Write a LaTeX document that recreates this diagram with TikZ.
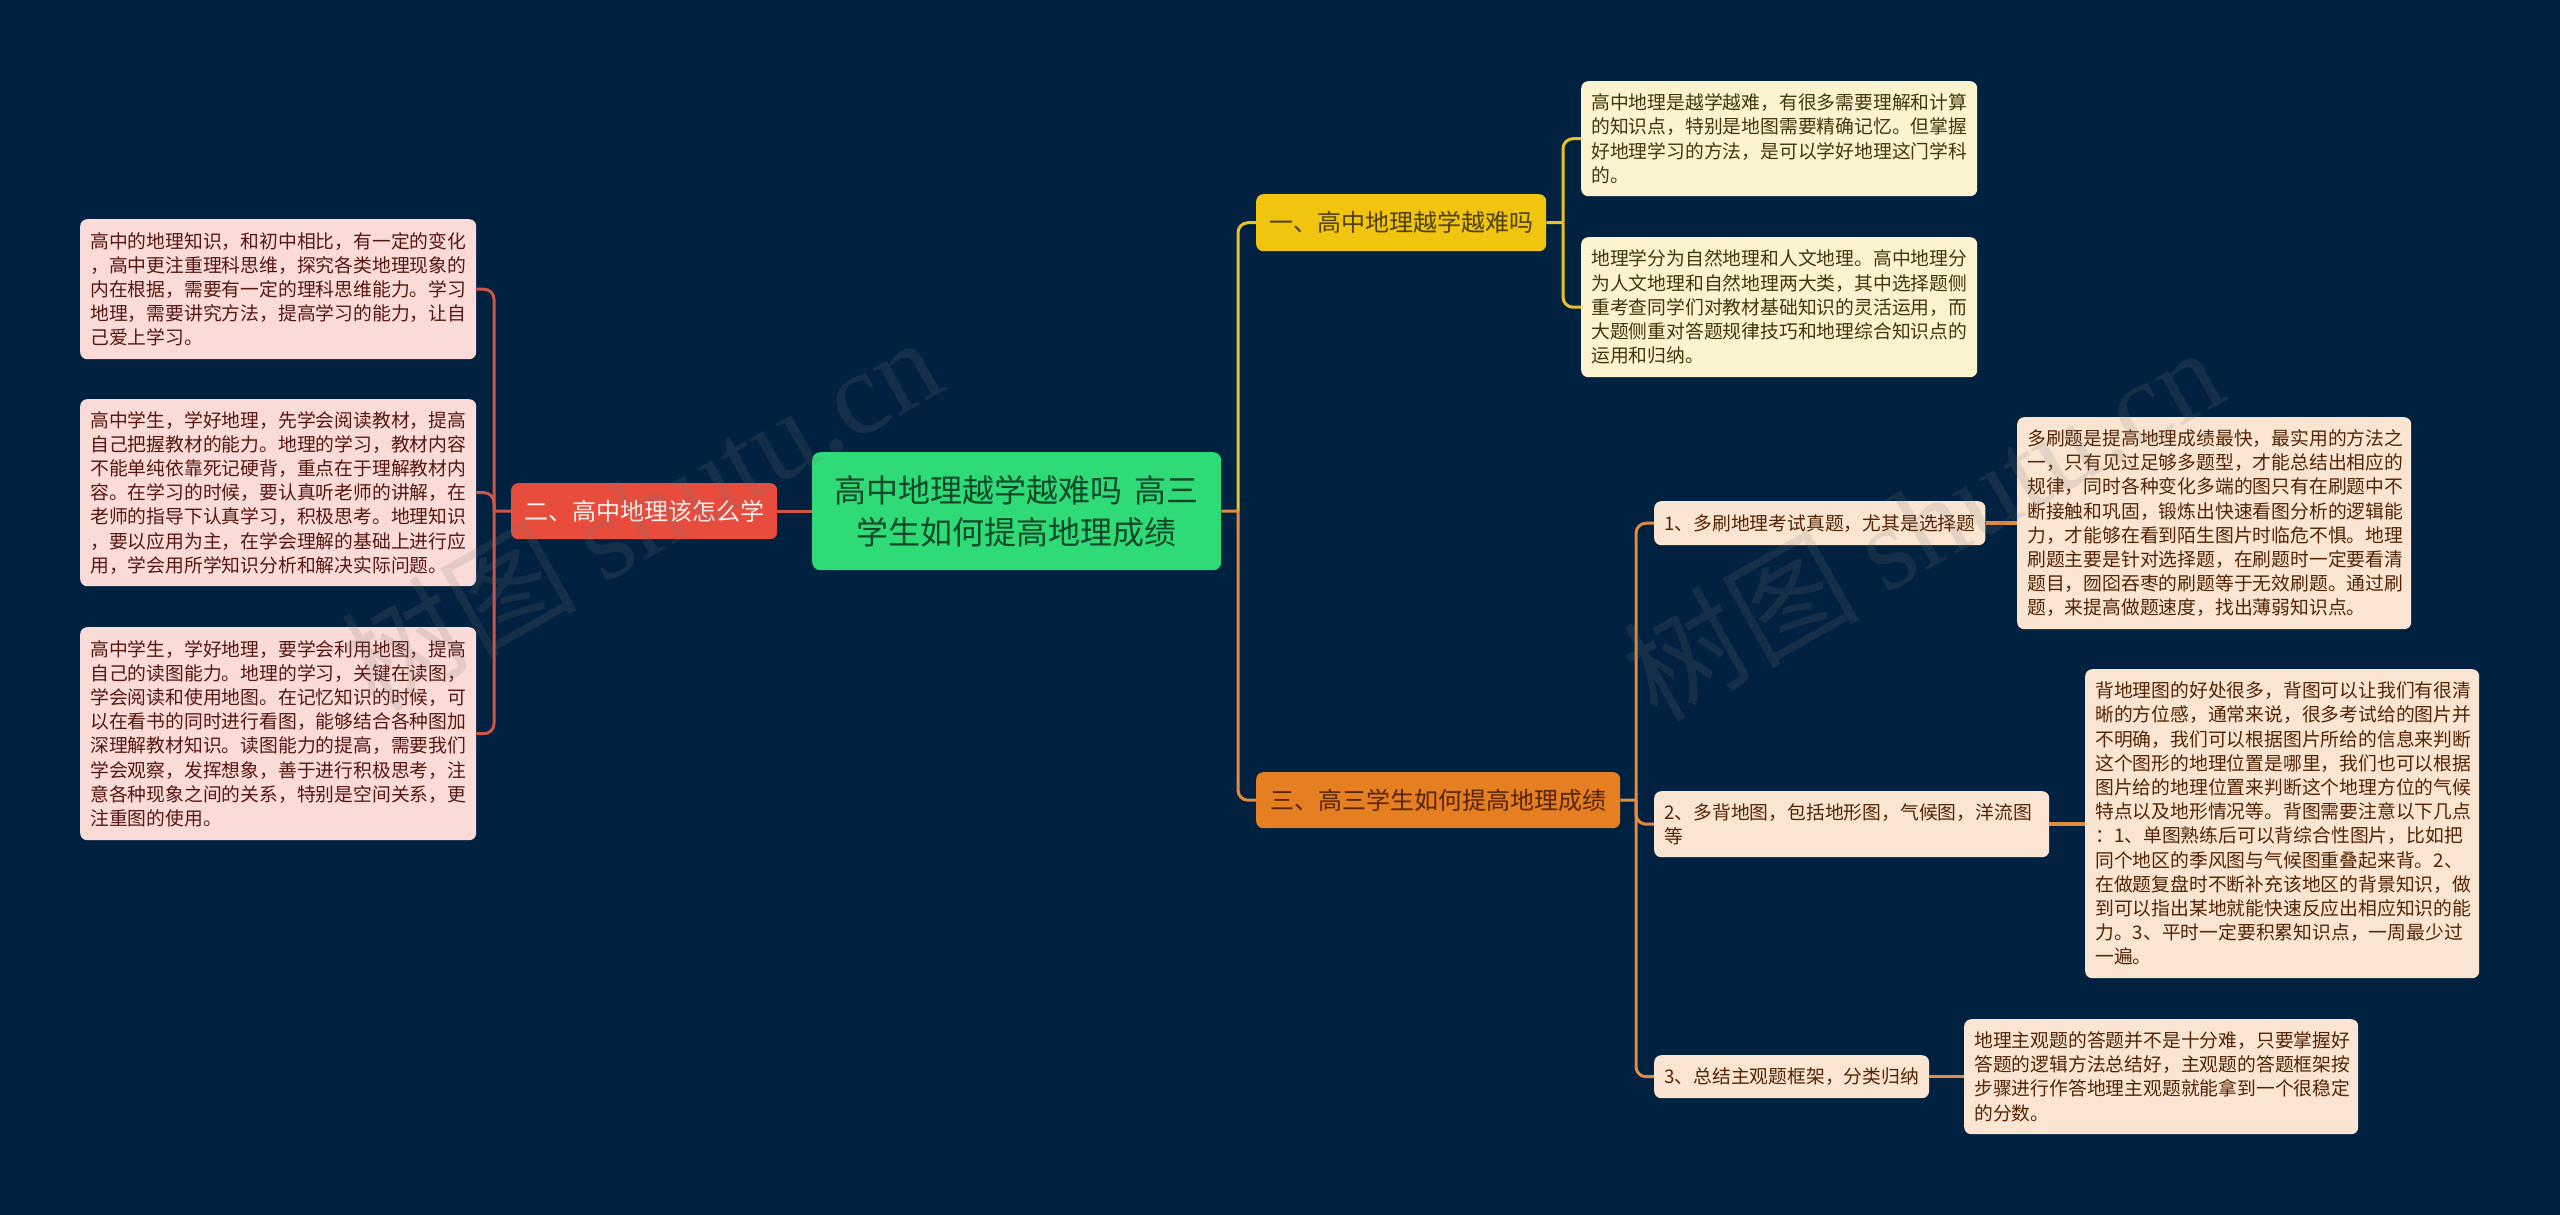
\documentclass[tikz,border=0pt]{standalone}
\usepackage{fontspec}
\setmainfont{Noto Sans CJK SC}
\newfontfamily\wmlatin{Liberation Serif}
\definecolor{bgc}{HTML}{012140}
\definecolor{rootc}{HTML}{2FDB77}
\definecolor{roott}{HTML}{10492A}
\definecolor{redc}{HTML}{E74C3C}
\definecolor{redt}{HTML}{FDF0EE}
\definecolor{yelc}{HTML}{F1C40F}
\definecolor{yelt}{HTML}{4F4004}
\definecolor{orac}{HTML}{E67E22}
\definecolor{orat}{HTML}{552503}
\definecolor{pinkc}{HTML}{FADBD8}
\definecolor{pinkt}{HTML}{561710}
\definecolor{crec}{HTML}{FCF3CF}
\definecolor{cret}{HTML}{42370A}
\definecolor{pchc}{HTML}{FAE5D3}
\definecolor{pcht}{HTML}{522403}
\definecolor{redl}{HTML}{CF5549}
\definecolor{yell}{HTML}{E8C02E}
\definecolor{oral}{HTML}{E08B3E}
\definecolor{wmc}{HTML}{787878}
\tikzset{
  base/.style={anchor=north west,rounded corners=7pt,inner ysep=0pt,inner xsep=10pt,align=left,
    font=\fontsize{18.8pt}{24.2pt}\selectfont},
  cardbox/.style={base,text width=376pt,minimum height=#1},
  rootbox/.style={anchor=north west,rounded corners=8pt,fill=rootc,text=roott,align=center,inner sep=0pt,
    minimum width=409pt,minimum height=118pt,font=\fontsize{32pt}{42pt}\selectfont},
  branchbox/.style={anchor=north west,rounded corners=7pt,inner sep=0pt,align=center,
    font=\fontsize{24pt}{30pt}\selectfont},
  pinkcard/.style={cardbox=#1,fill=pinkc,text=pinkt},
  crecard/.style={cardbox=#1,fill=crec,text=cret},
  pchcard/.style={cardbox=#1,text width=374pt,fill=pchc,text=pcht},
  childbox/.style={base,fill=pchc,text=pcht},
  conn/.style={line width=3pt,rounded corners=10pt},
  wmark/.style={text=wmc,text opacity=0.17,rotate=29.5,inner sep=0pt,font=\fontsize{118pt}{118pt}\selectfont},
}
\begin{document}
\begin{tikzpicture}[x=1pt,y=-1pt]
\fill[bgc] (0,0) rectangle (2560,1215);
\useasboundingbox (0,0) rectangle (2560,1215);
\node[rootbox] (root) at (812,452) {高中地理越学越难吗 \kern5pt高三\\学生如何提高地理成绩};
\node[branchbox,fill=redc,text=redt,minimum width=266pt,minimum height=56pt] (b2) at (511,483) {二、高中地理该怎么学};
\node[branchbox,fill=yelc,text=yelt,minimum width=290pt,minimum height=57pt] (b1) at (1256,194) {一、高中地理越学越难吗};
\node[branchbox,fill=orac,text=orat,minimum width=364pt,minimum height=56pt] (b3) at (1256,772) {三、高三学生如何提高地理成绩};
\node[pinkcard=140pt] (l1) at (80,219) {高中的地理知识，和初中相比，有一定的变化\\，高中更注重理科思维，探究各类地理现象的\\内在根据，需要有一定的理科思维能力。学习\\地理，需要讲究方法，提高学习的能力，让自\\己爱上学习。};
\node[pinkcard=187pt] (l2) at (80,399) {高中学生，学好地理，先学会阅读教材，提高\\自己把握教材的能力。地理的学习，教材内容\\不能单纯依靠死记硬背，重点在于理解教材内\\容。在学习的时候，要认真听老师的讲解，在\\老师的指导下认真学习，积极思考。地理知识\\，要以应用为主，在学会理解的基础上进行应\\用，学会用所学知识分析和解决实际问题。};
\node[pinkcard=213pt] (l3) at (80,627) {高中学生，学好地理，要学会利用地图，提高\\自己的读图能力。地理的学习，关键在读图，\\学会阅读和使用地图。在记忆知识的时候，可\\以在看书的同时进行看图，能够结合各种图加\\深理解教材知识。读图能力的提高，需要我们\\学会观察，发挥想象，善于进行积极思考，注\\意各种现象之间的关系，特别是空间关系，更\\注重图的使用。};
\node[crecard=115pt] (r1) at (1581,81) {高中地理是越学越难，有很多需要理解和计算\\的知识点，特别是地图需要精确记忆。但掌握\\好地理学习的方法，是可以学好地理这门学科\\的。};
\node[crecard=140pt] (r2) at (1581,237) {地理学分为自然地理和人文地理。高中地理分\\为人文地理和自然地理两大类，其中选择题侧\\重考查同学们对教材基础知识的灵活运用，而\\大题侧重对答题规律技巧和地理综合知识点的\\运用和归纳。};
\node[childbox,minimum width=327pt,minimum height=44pt] (c1) at (1654,501) {1、多刷地理考试真题，尤其是选择题};
\node[childbox,text width=375pt,minimum height=66pt] (c2) at (1654,791) {2、多背地图，包括地形图，气候图，洋流图\\等};
\node[childbox,minimum width=274pt,minimum height=43pt] (c3) at (1654,1055) {3、总结主观题框架，分类归纳};
\node[pchcard=212pt] (d1) at (2017,417) {多刷题是提高地理成绩最快，最实用的方法之\\一，只有见过足够多题型，才能总结出相应的\\规律，同时各种变化多端的图只有在刷题中不\\断接触和巩固，锻炼出快速看图分析的逻辑能\\力，才能够在看到陌生图片时临危不惧。地理\\刷题主要是针对选择题，在刷题时一定要看清\\题目，囫囵吞枣的刷题等于无效刷题。通过刷\\题，来提高做题速度，找出薄弱知识点。};
\node[pchcard=309pt] (d2) at (2085,669) {背地理图的好处很多，背图可以让我们有很清\\晰的方位感，通常来说，很多考试给的图片并\\不明确，我们可以根据图片所给的信息来判断\\这个图形的地理位置是哪里，我们也可以根据\\图片给的地理位置来判断这个地理方位的气候\\特点以及地形情况等。背图需要注意以下几点\\：1、单图熟练后可以背综合性图片，比如把\\同个地区的季风图与气候图重叠起来背。2、\\在做题复盘时不断补充该地区的背景知识，做\\到可以指出某地就能快速反应出相应知识的能\\力。3、平时一定要积累知识点，一周最少过\\一遍。};
\node[pchcard=115pt] (d3) at (1964,1019) {地理主观题的答题并不是十分难，只要掌握好\\答题的逻辑方法总结好，主观题的答题框架按\\步骤进行作答地理主观题就能拿到一个很稳定\\的分数。};
\coordinate (tl) at (494,511);
\coordinate (tc) at (1238,511);
\coordinate (ty) at (1563,222.5);
\coordinate (to) at (1636,800);
\draw[redl,line width=3pt] (root.west) -- (b2.east);
\draw[redl,line width=3pt] (b2.west) -- (tl);
\draw[redl,conn] (tl) |- (l1.east);
\draw[redl,conn] (tl) |- (l2.east);
\draw[redl,conn] (tl) |- (l3.east);
\draw[yell,conn] (tc) |- (b1.west);
\draw[oral,conn] (tc) |- (b3.west);
\draw[oral,line width=3pt] (root.east) -- (tc);
\draw[yell,line width=3pt] (b1.east) -- (ty);
\draw[yell,conn] (ty) |- (r1.west);
\draw[yell,conn] (ty) |- (r2.west);
\draw[oral,line width=3pt] (b3.east) -- (to);
\draw[oral,conn] (to) |- (c1.west);
\draw[oral,conn] (to) |- (c2.west);
\draw[oral,conn] (to) |- (c3.west);
\draw[oral,line width=3.5pt] (c1.east) -- (d1.west |- c1.east);
\draw[oral,line width=3.5pt] (c2.east) -- (d2.west |- c2.east);
\draw[oral,line width=3.5pt] (c3.east) -- (d3.west |- c3.east);
\node[wmark] (wm1) at (640,512) {树图 {\wmlatin shutu.cn}};
\node[wmark] (wm2) at (1922,522) {树图 {\wmlatin shutu.cn}};
\end{tikzpicture}
\end{document}
